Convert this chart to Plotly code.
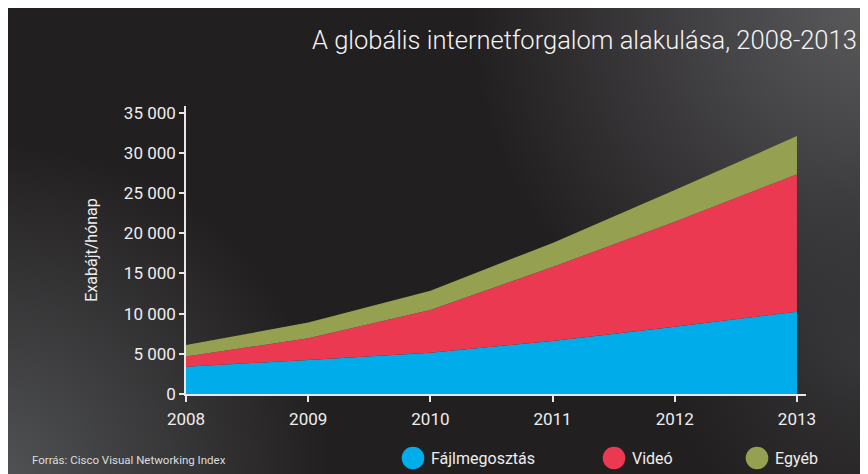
import base64
import plotly.graph_objects as go

years = [2008, 2009, 2010, 2011, 2012, 2013]
fajlmegosztas = [3400, 4230, 5140, 6600, 8370, 10240]
video = [1250, 2700, 5300, 9200, 13050, 17100]
egyeb = [1450, 1950, 2400, 3000, 3950, 4750]
series_names = ["Fájlmegosztás", "Videó", "Egyéb"]
series_colors = ["#00adea", "#ea3951", "#95a150"]
y_ticks = [0, 5000, 10000, 15000, 20000, 25000, 30000, 35000]

FONT = "Roboto, Lato, sans-serif"
TXT = "#eeeeee"

W, H = 868, 474
svg = f'''<svg xmlns="http://www.w3.org/2000/svg" width="{W}" height="{H}" viewBox="0 0 {W} {H}">
<defs>
<radialGradient id="tr" cx="{W-8}" cy="-8" r="400" gradientUnits="userSpaceOnUse">
<stop offset="0" stop-color="#5a5a5d" stop-opacity="1"/>
<stop offset="1" stop-color="#5a5a5d" stop-opacity="0"/>
</radialGradient>
<radialGradient id="bl" cx="-8" cy="{H-8}" r="330" gradientUnits="userSpaceOnUse">
<stop offset="0" stop-color="#505254" stop-opacity="1"/>
<stop offset="1" stop-color="#505254" stop-opacity="0"/>
</radialGradient>
<radialGradient id="br" cx="{W-8}" cy="{H-128}" r="200" gradientUnits="userSpaceOnUse">
<stop offset="0" stop-color="#3a3a3c" stop-opacity="0.8"/>
<stop offset="1" stop-color="#3a3a3c" stop-opacity="0"/>
</radialGradient>
</defs>
<rect x="0" y="0" width="{W}" height="{H}" fill="#221f20"/>
<rect x="0" y="0" width="{W}" height="{H}" fill="url(#tr)"/>
<rect x="0" y="0" width="{W}" height="{H}" fill="url(#bl)"/>
<rect x="0" y="0" width="{W}" height="{H}" fill="url(#br)"/>
</svg>'''
bg_src = "data:image/svg+xml;base64," + base64.b64encode(svg.encode()).decode()

fig = go.Figure()
for name, vals, col in zip(series_names, [fajlmegosztas, video, egyeb], series_colors):
    fig.add_trace(go.Scatter(
        x=years, y=vals, name=name, stackgroup="one", mode="none",
        fillcolor=col, line=dict(width=0), showlegend=False,
        hovertemplate="%{x}: %{y}<extra>" + name + "</extra>",
    ))

# page body has an 8px margin; coordinates below are in screen pixels
OFF = 8
L, R, T, B = 186 - OFF, 868 - (806 - OFF), 106 - OFF, 474 - (394 - OFF)
plot_w = W - L - R
plot_h = H - T - B


def px(x):
    return (x - OFF - L) / plot_w


def py(y):
    return 1 - (y - OFF - T) / plot_h


fig.update_layout(
    width=W, height=H,
    margin=dict(l=L, r=R, t=T, b=B, pad=0),
    paper_bgcolor="#221f20",
    plot_bgcolor="rgba(0,0,0,0)",
    separators=", ",
    font=dict(family=FONT, color=TXT, size=17),
    showlegend=False,
    images=[dict(source=bg_src, xref="paper", yref="paper",
                 x=-L / plot_w, y=1 + T / plot_h,
                 sizex=W / plot_w, sizey=H / plot_h,
                 xanchor="left", yanchor="top", sizing="stretch", layer="below")],
    xaxis=dict(
        range=[2008, 2013.074], tickvals=years, ticktext=[str(y) for y in years],
        showgrid=False, zeroline=False, showline=True, linecolor="#e8e8e8", linewidth=1.5,
        ticks="outside", ticklen=6, tickcolor="#e8e8e8", tickwidth=1.5,
        ticklabelstandoff=3,
        tickfont=dict(family=FONT, size=17, color=TXT),
    ),
    yaxis=dict(
        range=[0, 35830], tickvals=y_ticks, tickformat=",d",
        showgrid=False, zeroline=False, showline=True, linecolor="#e8e8e8", linewidth=1.5,
        ticks="outside", ticklen=5, tickcolor="#e8e8e8", tickwidth=1.5,
        tickfont=dict(family=FONT, size=17, color=TXT),
        title=dict(text="Exabájt/hónap", font=dict(family=FONT, size=16, color=TXT), standoff=22),
    ),
)

# title
fig.add_annotation(text="A globális internetforgalom alakulása, 2008-2013",
                   xref="paper", yref="paper",
                   x=px(859), y=py(40),
                   xanchor="right", yanchor="middle", showarrow=False,
                   font=dict(family=FONT, size=25.5, weight=300, color="#f4f4f4"))
# source
fig.add_annotation(text="Forrás: Cisco Visual Networking Index",
                   xref="paper", yref="paper",
                   x=px(30), y=py(460),
                   xanchor="left", yanchor="middle", showarrow=False,
                   font=dict(family=FONT, size=11.5, color="#dddddd"))

# legend (circles + labels)
legend_cx = [413, 614, 757]
for name, col, cx in zip(series_names, series_colors, legend_cx):
    cy = 458
    r = 11.3
    fig.add_shape(type="circle", xref="paper", yref="paper",
                  x0=px(cx - r), x1=px(cx + r),
                  y0=py(cy + r), y1=py(cy - r),
                  fillcolor=col, line=dict(width=0), layer="above")
    fig.add_annotation(text=name, xref="paper", yref="paper",
                       x=px(cx + r + 5), y=py(cy),
                       xanchor="left", yanchor="middle", showarrow=False,
                       font=dict(family=FONT, size=16, color=TXT))

fig.write_html("out.html")
